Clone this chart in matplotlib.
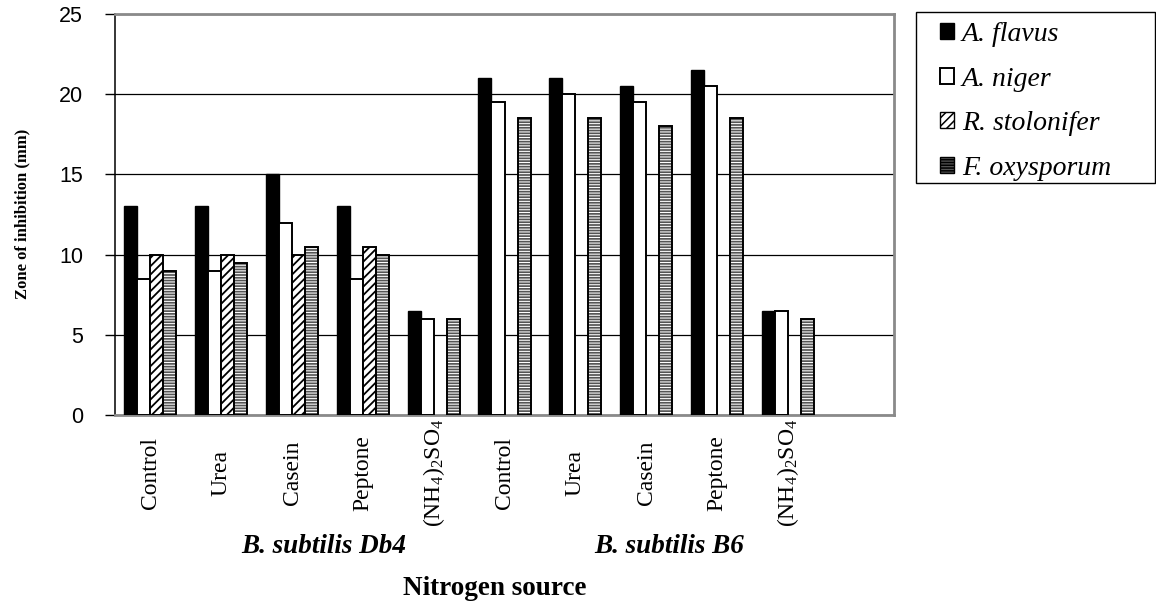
import matplotlib
matplotlib.use('Agg')
import matplotlib.pyplot as plt
import numpy as np
from matplotlib.patches import Patch, Rectangle

plt.rcParams['font.family'] = ['Liberation Serif', 'DejaVu Serif']
plt.rcParams['mathtext.fontset'] = 'custom'
plt.rcParams['mathtext.rm'] = 'Liberation Serif'
plt.rcParams['mathtext.default'] = 'regular'
plt.rcParams['hatch.linewidth'] = 1.1

# data (zone of inhibition, mm)
sources = ['Control', 'Urea', 'Casein', 'Peptone', '(NH$_4$)$_2$SO$_4$']
strains = ['B. subtilis Db4', 'B. subtilis B6']
fungi = ['A. flavus', 'A. niger', 'R. stolonifer', 'F. oxysporum']

a_flavus = [13, 13, 15, 13, 6.5, 21, 21, 20.5, 21.5, 6.5]
a_niger = [8.5, 9, 12, 8.5, 6, 19.5, 20, 19.5, 20.5, 6.5]
r_stolonifer = [10, 10, 10, 10.5, np.nan, np.nan, np.nan, np.nan, np.nan, np.nan]
f_oxysporum = [9, 9.5, 10.5, 10, 6, 18.5, 18.5, 18, 18.5, 6]

y_ticks = [0, 5, 10, 15, 20, 25]

STRIPE_GREY = '#555555'


def draw_bars(ax, x, width):
    ax.bar(x - 1.5 * width, a_flavus, width, color='black', edgecolor='black', lw=1.0, zorder=3)
    ax.bar(x - 0.5 * width, a_niger, width, color='white', edgecolor='black', lw=1.4, zorder=3)
    with plt.rc_context({'hatch.linewidth': 1.3}):
        ax.bar(x + 0.5 * width, r_stolonifer, width, color='white', edgecolor='black',
               hatch='////', lw=1.4, zorder=3)
    # grey bars with thin white horizontal stripes, outlined in black
    with plt.rc_context({'hatch.linewidth': 0.75}):
        ax.bar(x + 1.5 * width, f_oxysporum, width, color=STRIPE_GREY, edgecolor='white',
               hatch='------', lw=0, zorder=3)
    ax.bar(x + 1.5 * width, f_oxysporum, width, fill=False, edgecolor='black', lw=1.4, zorder=4)


fig = plt.figure(figsize=(11.56, 6.02), dpi=100)
ax = fig.add_axes([115 / 1156, 1 - 415 / 602, 779 / 1156, 401 / 602])

n = len(a_flavus)
x = np.arange(n)
draw_bars(ax, x, 0.184)

ax.set_xlim(-0.5, n + 0.5)
ax.set_ylim(0, 25)
ax.set_yticks(y_ticks)
ax.set_yticklabels([str(v) for v in y_ticks], fontfamily='Liberation Sans', fontsize=15.5)
ax.tick_params(axis='y', length=7, width=1, direction='out', pad=16)
ax.set_xticks([])
ax.yaxis.grid(True, color='black', lw=0.9, zorder=0)
ax.set_axisbelow(True)

for side in ['top', 'right', 'bottom']:
    ax.spines[side].set_color('#8a8a8a')
    ax.spines[side].set_linewidth(2)
ax.spines['left'].set_color('black')
ax.spines['left'].set_linewidth(1.1)

# rotated category labels
labels = sources * len(strains)
for xi, lab in zip(x, labels):
    ax.text(xi, -0.145, lab, transform=ax.get_xaxis_transform(), rotation=90,
            ha='center', va='center', fontsize=17)

fig.text(324 / 1156, 1 - 553 / 602, strains[0], fontsize=19.5, fontweight='bold',
         fontstyle='italic', ha='center', va='baseline')
fig.text(669 / 1156, 1 - 553 / 602, strains[1], fontsize=19.5, fontweight='bold',
         fontstyle='italic', ha='center', va='baseline')
fig.text(495 / 1156, 1 - 595 / 602, 'Nitrogen source', fontsize=19.5, fontweight='bold',
         ha='center', va='baseline')
fig.text(22 / 1156, 1 - 214 / 602, 'Zone of inhibition (mm)', fontsize=12, fontweight='bold',
         rotation=90, ha='center', va='center')

# legend: box drawn by hand, entries from a frameless legend
fig.patches.append(Rectangle((916 / 1156, 1 - 183 / 602), 239 / 1156, 171 / 602,
                             transform=fig.transFigure, fill=False, edgecolor='black', lw=1))
handles = [
    Patch(facecolor='black', edgecolor='black'),
    Patch(facecolor='white', edgecolor='black', lw=1.4),
    Patch(facecolor='white', edgecolor='black', hatch='////'),
    Patch(facecolor=STRIPE_GREY, edgecolor='black', hatch='------'),
]
fig.legend(handles, fungi, loc='upper left', bbox_to_anchor=(937 / 1156, 1 - 19 / 602),
           frameon=False, borderaxespad=0, borderpad=0.1, labelspacing=0.71,
           handlelength=0.5, handleheight=0.5, handletextpad=0.3,
           prop={'family': 'Liberation Serif', 'style': 'italic', 'size': 20})

fig.savefig('out.png', dpi=100)
